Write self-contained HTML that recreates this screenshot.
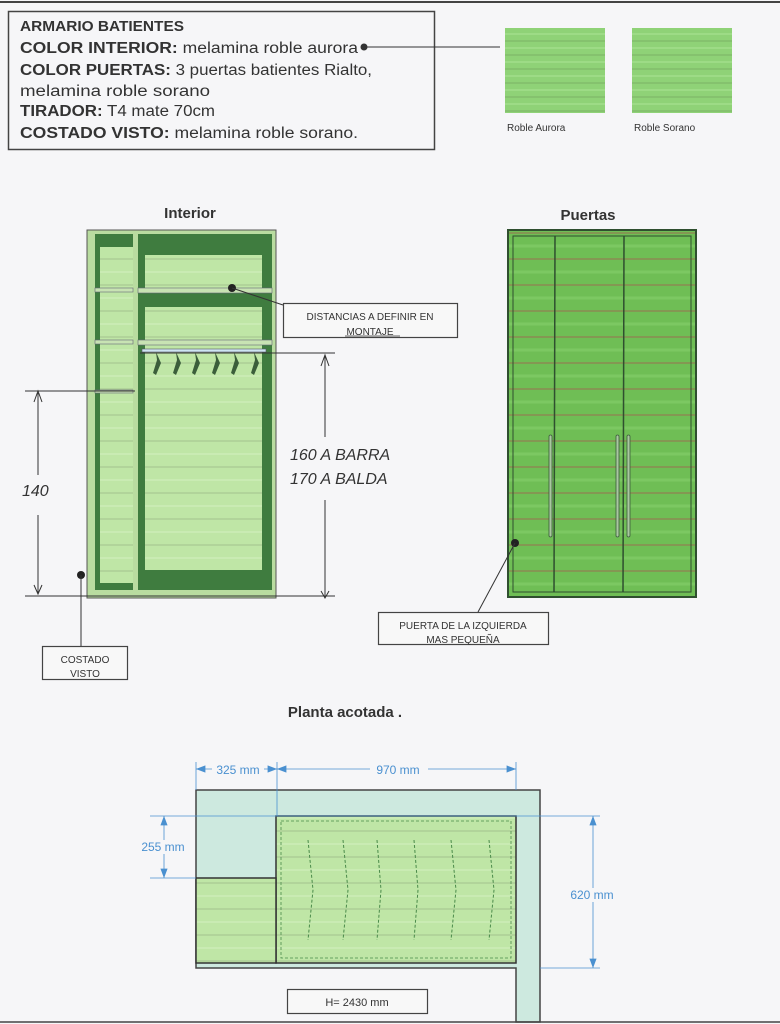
<!DOCTYPE html>
<html><head><meta charset="utf-8"><style>
html,body{margin:0;padding:0;background:#f6f6f8;}
svg{display:block;}
text{font-family:"Liberation Sans",sans-serif;}
</style></head><body>
<svg width="780" height="1024" viewBox="0 0 780 1024" xmlns="http://www.w3.org/2000/svg">
<defs>
<pattern id="wood" width="40" height="26" patternUnits="userSpaceOnUse">
<rect width="40" height="26" fill="#bfe6a6"/>
<line x1="0" y1="25" x2="40" y2="25" stroke="#a9c992" stroke-width="1.2"/>
<line x1="0" y1="12" x2="40" y2="12" stroke="#c9ebb3" stroke-width="2"/>
</pattern>
<pattern id="door" width="40" height="26" patternUnits="userSpaceOnUse">
<rect width="40" height="26" fill="#6fbe55"/>
<line x1="0" y1="25" x2="40" y2="25" stroke="#8a8a52" stroke-width="1.5"/>
<line x1="0" y1="12" x2="40" y2="12" stroke="#7cc862" stroke-width="3"/>
</pattern>
<pattern id="sw" width="40" height="14" patternUnits="userSpaceOnUse">
<rect width="40" height="14" fill="#8fd277"/>
<line x1="0" y1="13" x2="40" y2="13" stroke="#7fb868" stroke-width="1.2"/>
<line x1="0" y1="6" x2="40" y2="6" stroke="#9ddb86" stroke-width="2"/>
</pattern>
</defs>
<line x1="0" y1="2" x2="780" y2="2" stroke="#444" stroke-width="2"/>
<rect x="8.5" y="11.5" width="426" height="138" fill="none" stroke="#444" stroke-width="1.5"/>
<g font-size="15.5" fill="#333">
<text x="20" y="31" font-weight="bold" font-size="14.5" textLength="164" lengthAdjust="spacingAndGlyphs">ARMARIO BATIENTES</text>
<text x="20" y="53" textLength="338" lengthAdjust="spacingAndGlyphs"><tspan font-weight="bold">COLOR INTERIOR:</tspan> melamina roble aurora</text>
<text x="20" y="75" textLength="352" lengthAdjust="spacingAndGlyphs"><tspan font-weight="bold">COLOR PUERTAS:</tspan> 3 puertas batientes Rialto,</text>
<text x="20" y="96" textLength="190" lengthAdjust="spacingAndGlyphs">melamina roble sorano</text>
<text x="20" y="116" textLength="195" lengthAdjust="spacingAndGlyphs"><tspan font-weight="bold">TIRADOR:</tspan> T4 mate 70cm</text>
<text x="20" y="138" textLength="338" lengthAdjust="spacingAndGlyphs"><tspan font-weight="bold">COSTADO VISTO:</tspan> melamina roble sorano.</text>
</g>
<circle cx="364" cy="47" r="3.5" fill="#333"/>
<line x1="364" y1="47" x2="500" y2="47" stroke="#333" stroke-width="1"/>
<rect x="505" y="28" width="100" height="85" fill="url(#sw)"/>
<rect x="632" y="28" width="100" height="85" fill="url(#sw)"/>
<text x="507" y="131" font-size="10" fill="#333">Roble Aurora</text>
<text x="634" y="131" font-size="10" fill="#333">Roble Sorano</text>

<text x="190" y="218" font-size="15" font-weight="bold" fill="#333" text-anchor="middle">Interior</text>
<text x="588" y="220" font-size="15" font-weight="bold" fill="#333" text-anchor="middle">Puertas</text>

<rect x="87" y="230" width="189" height="368" fill="#b9dca0" stroke="#555" stroke-width="1"/>
<rect x="95" y="234" width="177" height="356" fill="#3f7c3f"/>
<rect x="100" y="247" width="33" height="336" fill="url(#wood)"/>
<rect x="133" y="234" width="5" height="356" fill="#b9dca0"/>
<rect x="145" y="255" width="117" height="315" fill="url(#wood)"/>
<rect x="138" y="293" width="134" height="14" fill="#3f7c3f"/>
<g fill="#c8e3b3" stroke="#667" stroke-width="0.6">
<rect x="95" y="288" width="38" height="4"/>
<rect x="95" y="340" width="38" height="4"/>
<rect x="95" y="390" width="38" height="3"/>
<rect x="138" y="288" width="134" height="5"/>
<rect x="138" y="340" width="134" height="5"/>
</g>
<rect x="142" y="349" width="124" height="3" fill="#cfe6f2" stroke="#556" stroke-width="0.6"/>
<g fill="#3b5e3b">
<path d="M156 352 l1 8 l-4 13 l3 2 l5 -12 z"/><path d="M176 352 l1 8 l-4 13 l3 2 l5 -12 z"/>
<path d="M195 352 l1 8 l-4 13 l3 2 l5 -12 z"/><path d="M215 352 l1 8 l-4 13 l3 2 l5 -12 z"/>
<path d="M234 352 l1 8 l-4 13 l3 2 l5 -12 z"/><path d="M254 352 l1 8 l-4 13 l3 2 l5 -12 z"/>
</g>
<circle cx="232" cy="288" r="4" fill="#222"/>
<line x1="232" y1="288" x2="283" y2="305" stroke="#333"/>
<rect x="283.5" y="303.5" width="174" height="34" fill="#f8f8f8" stroke="#444" stroke-width="1.2"/>
<text x="370" y="320" font-size="10" fill="#333" text-anchor="middle">DISTANCIAS A DEFINIR EN</text>
<text x="370" y="335" font-size="10" fill="#333" text-anchor="middle">MONTAJE</text>
<line x1="345" y1="336" x2="400" y2="336" stroke="#333" stroke-width="0.8"/>

<g stroke="#333" stroke-width="1" fill="none">
<line x1="25" y1="391" x2="135" y2="391"/>
<line x1="25" y1="596" x2="335" y2="596"/>
<line x1="140" y1="353" x2="335" y2="353"/>
<line x1="38" y1="393" x2="38" y2="475"/>
<line x1="38" y1="515" x2="38" y2="594"/>
<line x1="325" y1="356" x2="325" y2="437"/>
<line x1="325" y1="500" x2="325" y2="598"/>
<path d="M34 402 L38 391 L42 402"/><path d="M34 585 L38 594 L42 585"/>
<path d="M321 366 L325 355 L329 366"/><path d="M321 591 L325 598 L329 591"/>
</g>
<text x="22" y="496" font-size="16" fill="#333" font-style="italic">140</text>
<text x="290" y="460" font-size="16" fill="#333" font-style="italic">160 A BARRA</text>
<text x="290" y="484" font-size="16" fill="#333" font-style="italic">170 A BALDA</text>
<circle cx="81" cy="575" r="4" fill="#222"/>
<line x1="81" y1="575" x2="81" y2="646" stroke="#333"/>
<rect x="42.5" y="646.5" width="85" height="33" fill="#f8f8f8" stroke="#444" stroke-width="1.2"/>
<text x="85" y="663" font-size="10" fill="#333" text-anchor="middle">COSTADO</text>
<text x="85" y="677" font-size="10" fill="#333" text-anchor="middle">VISTO</text>

<rect x="508" y="230" width="188" height="367" fill="url(#door)" stroke="#2f4f2f" stroke-width="2"/>
<rect x="513" y="236" width="178" height="356" fill="none" stroke="#2f4f2f" stroke-width="1"/>
<line x1="555" y1="236" x2="554" y2="592" stroke="#2f4f2f" stroke-width="1.5"/>
<line x1="624" y1="236" x2="623" y2="592" stroke="#2f4f2f" stroke-width="1.5"/>
<g fill="#a9c7a0" stroke="#3a5a3a" stroke-width="0.8">
<rect x="549" y="435" width="3" height="102" rx="1.5"/>
<rect x="616" y="435" width="3" height="102" rx="1.5"/>
<rect x="627" y="435" width="3" height="102" rx="1.5"/>
</g>
<circle cx="515" cy="543" r="4" fill="#222"/>
<line x1="515" y1="543" x2="478" y2="612" stroke="#333"/>
<rect x="378.5" y="612.5" width="170" height="32" fill="#f8f8f8" stroke="#444" stroke-width="1.2"/>
<text x="463" y="629" font-size="10" fill="#333" text-anchor="middle">PUERTA DE LA IZQUIERDA</text>
<text x="463" y="643" font-size="10" fill="#333" text-anchor="middle">MAS PEQUEÑA</text>

<text x="345" y="717" font-size="15" font-weight="bold" fill="#333" text-anchor="middle">Planta acotada .</text>
<path d="M196 790 H540 V1022 H516 V968 H196 Z" fill="#cde9df" stroke="#444" stroke-width="1.5"/>
<rect x="276" y="816" width="240" height="147" fill="url(#wood)" stroke="#333" stroke-width="1.5"/>
<rect x="196" y="878" width="80" height="85" fill="url(#wood)" stroke="#333" stroke-width="1.5"/>
<rect x="281" y="821" width="230" height="137" fill="none" stroke="#4a8a4a" stroke-width="0.8" stroke-dasharray="3 2"/>
<g stroke="#4a8a4a" stroke-width="1" fill="none" stroke-dasharray="3 2">
<path d="M308 840 L313 890 L308 940"/><path d="M343 840 L348 890 L343 940"/>
<path d="M377 840 L381 890 L377 940"/><path d="M414 840 L418 890 L414 940"/>
<path d="M451 840 L456 890 L451 940"/><path d="M489 840 L494 890 L489 940"/>
</g>
<g stroke="#4a90d0" stroke-width="0.8" fill="#4a90d0">
<line x1="196" y1="769" x2="516" y2="769"/>
<line x1="196" y1="762" x2="196" y2="790"/>
<line x1="277" y1="762" x2="277" y2="816"/>
<line x1="516" y1="762" x2="516" y2="790"/>
<line x1="150" y1="816" x2="600" y2="816"/>
<line x1="150" y1="878" x2="196" y2="878"/>
<line x1="540" y1="968" x2="600" y2="968"/>
<line x1="164" y1="816" x2="164" y2="878"/>
<line x1="593" y1="816" x2="593" y2="968"/>
<path d="M197 769 l8 -3 v6 z"/><path d="M276 769 l-8 -3 v6 z"/><path d="M278 769 l8 -3 v6 z"/><path d="M515 769 l-8 -3 v6 z"/>
<path d="M164 817 l-3 8 h6 z"/><path d="M164 877 l-3 -8 h6 z"/>
<path d="M593 817 l-3 8 h6 z"/><path d="M593 967 l-3 -8 h6 z"/>
</g>
<rect x="212" y="762" width="52" height="14" fill="#f6f6f8"/>
<text x="238" y="774" font-size="12" fill="#4a90d0" text-anchor="middle">325 mm</text>
<rect x="370" y="762" width="58" height="14" fill="#f6f6f8"/>
<text x="398" y="774" font-size="12" fill="#4a90d0" text-anchor="middle">970 mm</text>
<rect x="136" y="840" width="56" height="14" fill="#f6f6f8"/>
<text x="163" y="851" font-size="12" fill="#4a90d0" text-anchor="middle">255 mm</text>
<rect x="563" y="888" width="60" height="14" fill="#f6f6f8"/>
<text x="592" y="899" font-size="12" fill="#4a90d0" text-anchor="middle">620 mm</text>
<rect x="287.5" y="989.5" width="140" height="24" fill="#f8f8f8" stroke="#444" stroke-width="1.2"/>
<text x="357" y="1006" font-size="11" fill="#333" text-anchor="middle">H= 2430 mm</text>
<line x1="0" y1="1022" x2="780" y2="1022" stroke="#444" stroke-width="1.5"/>
</svg>
</body></html>
